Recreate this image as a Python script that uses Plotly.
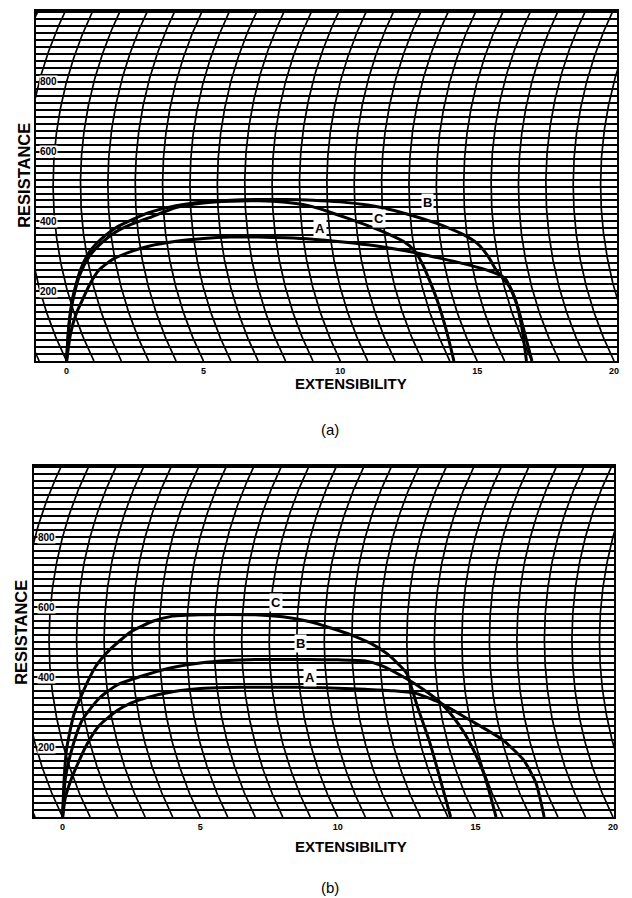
import numpy as np
import plotly.graph_objects as go

# ---------------- data ----------------
# chart (a)
a_A_ext = [0, 0.15, 0.35, 0.58, 0.85, 1.2, 1.7, 2.4, 3, 4, 5, 6, 7, 8, 9, 10, 11, 12, 12.7, 13.5, 14.5, 15.3, 16.0, 16.4, 16.62, 16.8]
a_A_res = [0, 80, 135, 175, 220, 262, 292, 315, 329, 343, 351, 355, 355, 353, 349, 342, 333, 321, 311, 297, 279, 262, 238, 174, 100, 0]

a_B_ext = [0, 0.08, 0.22, 0.5, 0.83, 1.3, 1.8, 2.4, 3, 4, 5, 6, 7, 8, 9, 10, 11, 11.5, 12.5, 13.5, 13.9, 14.5, 15, 15.4, 15.7, 16.2, 16.5, 16.75, 17.0]
a_B_res = [0, 100, 180, 260, 312, 352, 382, 405, 425, 445, 456, 461, 463, 463, 461, 456, 447, 440, 420, 395, 383, 362, 337, 300, 260, 211, 150, 75, 0]

a_C_ext = [0, 0.08, 0.22, 0.5, 0.83, 1.3, 1.8, 2.4, 3, 4, 5, 6, 7, 8, 8.8, 9.5, 10.3, 11, 11.7, 12.3, 12.7, 13.0, 13.3, 13.6, 13.9, 14.15]
a_C_res = [0, 95, 170, 250, 300, 340, 370, 393, 410, 440, 453, 458, 459, 455, 446, 430, 408, 388, 366, 343, 317, 278, 223, 160, 80, 0]

# chart (b)
b_A_ext = [0, 0.1, 0.3, 0.5, 0.9, 1.34, 2, 2.5, 3.1, 4, 5, 6, 7, 8, 9, 10, 11, 12, 12.8, 13.7, 14.8, 15.5, 16.0, 16.75, 17.2, 17.5]
b_A_res = [0, 55, 105, 143, 210, 262, 305, 326, 342, 358, 367, 370, 371, 371, 370, 368, 365, 361, 354, 327, 277, 245, 220, 163, 97, 0]

b_B_ext = [0, 0.1, 0.36, 0.7, 1.34, 2, 3.1, 4, 5, 6, 7, 8, 9, 10, 11, 11.55, 12.5, 13.1, 13.7, 14.2, 14.6, 15.0, 15.3, 15.55, 15.75]
b_B_res = [0, 110, 200, 275, 340, 378, 408, 427, 440, 447, 450, 450, 450, 449, 446, 434, 395, 365, 329, 285, 240, 180, 126, 60, 0]

b_C_ext = [0, 0.05, 0.14, 0.4, 0.72, 1.2, 1.7, 2.5, 3.3, 4, 5, 6, 7, 8, 9, 9.75, 10.5, 11.2, 11.8, 12.5, 12.7, 12.9, 13.35, 13.75, 14.1]
b_C_res = [0, 100, 191, 290, 354, 430, 477, 530, 560, 574, 578, 579, 578, 572, 558, 540, 520, 496, 466, 411, 365, 314, 211, 100, 0]

curve_names = ["A", "B", "C"]
label_a = {"A": (9.26, 380), "C": (11.4, 408), "B": (13.2, 454)}
label_b = {"C": (7.76, 614), "B": (8.63, 497), "A": (9.0, 400)}

x_ticks = [0, 5, 10, 15, 20]
y_tick_labels = [200, 400, 600, 800]

# ---------------- chart-paper geometry (style) ----------------
R_PX, PX_X, PX_Y, VC = 400.0, 27.6, 0.35, 505.0
FONT = "Liberation Sans, Arial, Helvetica, sans-serif"


def arc_off(v):
    dy = (np.asarray(v) - VC) * PX_Y
    return (R_PX - np.sqrt(R_PX ** 2 - dy ** 2)) / PX_X


v_grid = np.linspace(0, 1000, 201)
arc_xs, arc_ys = [], []
for k in range(-1, 22):
    xs = k + arc_off(v_grid) - arc_off(0)
    arc_xs += list(xs) + [None]
    arc_ys += list(v_grid) + [None]

fig = go.Figure()

panels = [
    dict(xa="x", ya="y", data=[(a_A_ext, a_A_res), (a_B_ext, a_B_res), (a_C_ext, a_C_res)], labels=label_a,
         xdom=[36 / 632, 621 / 632], ydom=[1 - 361 / 898, 1 - 11 / 898], xr=[-1.125, 20.11], ylab_x=-1.0,
         title_y=384, res_x=24, res_y=175, tag="(a)", tag_y=430),
    dict(xa="x2", ya="y2", data=[(b_A_ext, b_A_res), (b_B_ext, b_B_res), (b_C_ext, b_C_res)], labels=label_b,
         xdom=[34 / 632, 618 / 632], ydom=[1 - 817 / 898, 1 - 466 / 898], xr=[-1.047, 20.04], ylab_x=-0.92,
         title_y=846, res_x=21, res_y=632, tag="(b)", tag_y=887),
]

annotations = []
for i, p in enumerate(panels):
    fig.add_trace(go.Scatter(x=arc_xs, y=arc_ys, mode="lines", xaxis=p["xa"], yaxis=p["ya"],
                             line=dict(color="black", width=1.7), hoverinfo="skip", showlegend=False))
    for name, (xs, ys) in zip(curve_names, p["data"]):
        fig.add_trace(go.Scatter(x=xs, y=ys, mode="lines", name=name, xaxis=p["xa"], yaxis=p["ya"],
                                 line=dict(color="black", width=3, shape="spline", smoothing=0.6),
                                 showlegend=False))
    for name, (lx, ly) in p["labels"].items():
        annotations.append(dict(x=lx, y=ly, xref=p["xa"], yref=p["ya"], text="<b>%s</b>" % name,
                                showarrow=False, bgcolor="white", borderpad=1,
                                font=dict(family=FONT, size=13, color="black")))
    for yv in y_tick_labels:
        annotations.append(dict(x=p["ylab_x"], y=yv, xref=p["xa"], yref=p["ya"], text="<b>%d</b>" % yv,
                                showarrow=False, xanchor="left", yanchor="middle", bgcolor="white", borderpad=0,
                                font=dict(family=FONT, size=10, color="black")))
    annotations.append(dict(x=353 / 632, y=1 - p["title_y"] / 898, xref="paper", yref="paper",
                            text="<b>EXTENSIBILITY</b>", showarrow=False, xanchor="center", yanchor="middle",
                            font=dict(family=FONT, size=15, color="black")))
    annotations.append(dict(x=p["res_x"] / 632, y=1 - p["res_y"] / 898, xref="paper", yref="paper",
                            text="<b>RESISTANCE</b>", showarrow=False, textangle=-90,
                            xanchor="center", yanchor="middle",
                            font=dict(family=FONT, size=16.5, color="black")))
    annotations.append(dict(x=332 / 632, y=1 - p["tag_y"] / 898, xref="paper", yref="paper",
                            text=p["tag"], showarrow=False, xanchor="center", yanchor="middle",
                            font=dict(family=FONT, size=15, color="black")))

    sfx = "" if i == 0 else "2"
    fig.layout["xaxis" + sfx] = dict(domain=p["xdom"], range=p["xr"], anchor="y" + sfx, showgrid=False,
                                     zeroline=False, showline=True, linecolor="black", linewidth=2, mirror=True,
                                     tickvals=x_ticks, ticks="", tickfont=dict(family=FONT, size=9, color="black",
                                                                                weight="bold"))
    fig.layout["yaxis" + sfx] = dict(domain=p["ydom"], range=[0, 1003], anchor="x" + sfx, showgrid=True,
                                     gridcolor="black", gridwidth=1.5, tick0=0, dtick=20, zeroline=False,
                                     showline=True, linecolor="black", linewidth=2, mirror=True,
                                     showticklabels=False, ticks="")

fig.update_layout(width=632, height=898, margin=dict(l=0, r=0, t=0, b=0), paper_bgcolor="white",
                  plot_bgcolor="white", annotations=annotations, showlegend=False)

fig.write_html("out.html", config={"displayModeBar": False},
               post_script="document.body.style.margin='0px';")
